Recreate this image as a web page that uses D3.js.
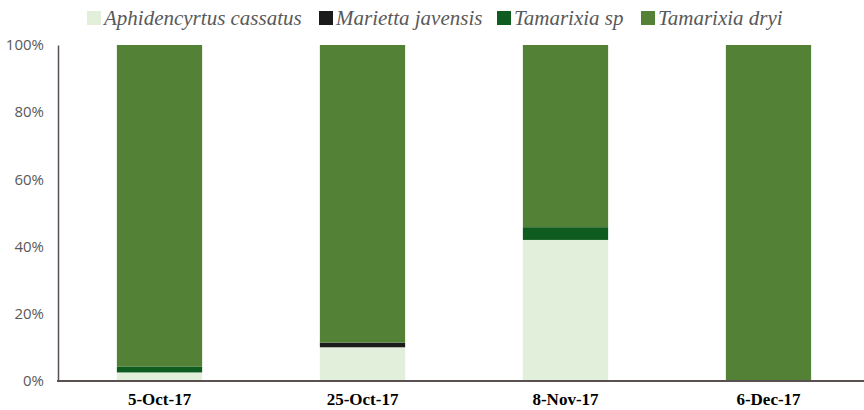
<!DOCTYPE html>
<html>
<head>
<meta charset="utf-8">
<script src="https://cdn.jsdelivr.net/npm/d3@7"></script>
<style>
  html, body { margin: 0; padding: 0; background: #fff; }
  svg { display: block; }
</style>
</head>
<body>
<svg id="chart" width="864" height="410"></svg>
<script>
// Sampling dates (x categories)
const dates = ["5-Oct-17", "25-Oct-17", "8-Nov-17", "6-Dec-17"];

// Parasitoid species, stacked bottom to top
const species = ["Aphidencyrtus cassatus", "Marietta javensis", "Tamarixia sp", "Tamarixia dryi"];
const speciesColors = ["#E2EFDA", "#1B1B1B", "#0E5C1F", "#538135"];

// Percentage of each species per date
const aphidencyrtus = [2.4, 9.9, 41.9, 0];
const marietta      = [0,   1.4, 0,    0];
const tamarixiaSp   = [1.8, 0,   3.8,  0];
const tamarixiaDryi = [95.8, 88.7, 54.3, 100];

const yTicks = [0, 20, 40, 60, 80, 100];

const rows = dates.map((d, i) => ({
  date: d,
  "Aphidencyrtus cassatus": aphidencyrtus[i],
  "Marietta javensis": marietta[i],
  "Tamarixia sp": tamarixiaSp[i],
  "Tamarixia dryi": tamarixiaDryi[i]
}));

const svg = d3.select("#chart");
const margin = { left: 58, right: -6, top: 45, bottom: 29 };
const W = 864, H = 410;

const x = d3.scaleBand()
  .domain(dates)
  .range([margin.left, W - margin.right])
  .paddingInner(0.58)
  .paddingOuter(0.29);

const y = d3.scaleLinear()
  .domain([0, 100])
  .range([H - margin.bottom - 0.5, margin.top]);

const color = d3.scaleOrdinal().domain(species).range(speciesColors);

const stack = d3.stack().keys(species);
const series = stack(rows);

// Bars
svg.append("g")
  .selectAll("g")
  .data(series)
  .join("g")
  .attr("fill", d => color(d.key))
  .selectAll("rect")
  .data(d => d)
  .join("rect")
  .attr("x", d => x(d.data.date))
  .attr("width", x.bandwidth())
  .attr("y", d => y(d[1]))
  .attr("height", d => Math.max(0, y(d[0]) - y(d[1])));

// Y axis
const yAxis = svg.append("g")
  .attr("transform", `translate(${margin.left},0)`)
  .call(d3.axisLeft(y).tickValues(yTicks).tickFormat(d => d + "%").tickSize(0).tickPadding(14));
yAxis.select(".domain").attr("stroke", "#595050").attr("stroke-width", 1.5);
yAxis.selectAll("text")
  .attr("fill", "#595959")
  .attr("font-family", "'Open Sans', 'Liberation Sans', sans-serif")
  .attr("font-size", 15);

// X axis
const xAxis = svg.append("g")
  .attr("transform", `translate(0,${H - margin.bottom})`)
  .call(d3.axisBottom(x).tickSize(0).tickPadding(12));
xAxis.select(".domain").remove();
xAxis.append("line")
  .attr("x1", margin.left - 1).attr("x2", W)
  .attr("y1", 0).attr("y2", 0)
  .attr("stroke", "#595050").attr("stroke-width", 2);
xAxis.selectAll("text")
  .attr("fill", "#000")
  .attr("font-family", "'Liberation Serif', 'Times New Roman', serif")
  .attr("font-weight", "bold")
  .attr("font-size", 17);

// Legend
const legendX = [87, 319, 497, 641];
const legend = svg.append("g");
species.forEach((s, i) => {
  const g = legend.append("g").attr("transform", `translate(${legendX[i]},11)`);
  g.append("rect").attr("width", 14).attr("height", 14).attr("fill", speciesColors[i]);
  g.append("text")
    .attr("x", 17).attr("y", 14)
    .attr("fill", "#595959")
    .attr("font-family", "'Liberation Serif', 'Times New Roman', serif")
    .attr("font-style", "italic")
    .attr("font-size", 21)
    .text(s);
});
</script>
</body>
</html>
